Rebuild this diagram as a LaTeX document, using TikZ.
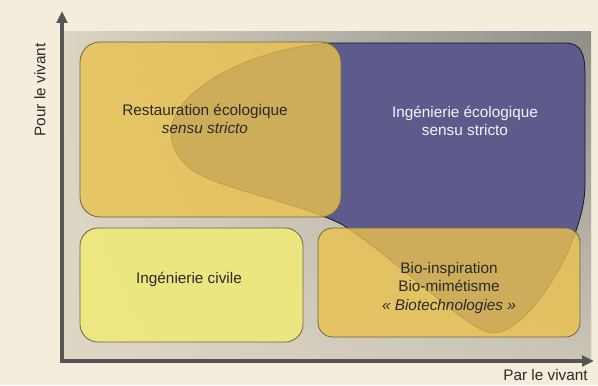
\documentclass[tikz,border=0pt]{standalone}
\usepackage{fontspec}
\setmainfont{Liberation Sans}
\usetikzlibrary{arrows.meta,fadings}
\definecolor{cream}{HTML}{F4EDDB}
\definecolor{panelL}{HTML}{DCD5C4}
\definecolor{panelR}{HTML}{8F8E88}
\definecolor{purp}{HTML}{5D5B8C}
\definecolor{gold}{HTML}{E9C24E}
\definecolor{lyel}{HTML}{EEE87E}
\definecolor{edgec}{HTML}{6E6440}
\definecolor{axisc}{HTML}{555555}
\definecolor{txt}{HTML}{2B2B2B}
\begin{document}
\begin{tikzpicture}[x=0.75pt,y=-0.75pt,
  lbl/.style={font=\fontsize{11.5}{14}\selectfont, text=txt, align=center, inner sep=0pt},
  gbox/.style={fill=gold, fill opacity=0.8, draw=edgec, line width=0.6pt},
  ybox/.style={fill=lyel, fill opacity=0.95, draw=edgec, line width=0.6pt},
  axisline/.style={draw=axisc, line width=2.4pt, line join=miter, {Triangle[width=8pt,length=9pt]}-{Triangle[width=8pt,length=9pt]}}]
\fill[cream] (0,0) rectangle (598,385);
\useasboundingbox (0,0) rectangle (598,385);
% panel
\shade[left color=panelL, right color=panelR] (64,32) rectangle (591,361);
\fill[panelL!85!cream, path fading=north, opacity=0.75] (64,32) rectangle (591,361);
% blob
\draw[fill=purp, draw=black!75!purp, line width=0.6pt]
  (171,132) .. controls (171,95) and (240,50) .. (330,43)
  -- (565,43) .. controls (582,43) and (585,55) .. (585,75)
  -- (585,185) .. controls (585,240) and (530,333) .. (493,333)
  .. controls (470,333) and (400,262) .. (343,225)
  .. controls (300,203) and (225,190) .. (195,172)
  .. controls (178,160) and (171,148) .. (171,132) -- cycle;
% boxes
\draw[gbox, rounded corners=15pt] (80,42) rectangle (341,217);
\draw[ybox, rounded corners=13.5pt] (80,228) rectangle (303,342);
\draw[gbox, rounded corners=11pt] (318,228) rectangle (580,337);
% texts
\node[lbl] (rest) at (205,119) {Restauration écologique\\\textit{sensu stricto}};
\node[lbl, text=white!93!purp] (inge) at (465,121) {Ingénierie écologique\\sensu stricto};
\node[lbl] (civ) at (189,279) {Ingénierie civile};
\node[lbl] (bio) at (449,288) {Bio-inspiration\\Bio-mimétisme\\\textit{« Biotechnologies »}};
% axes
\coordinate (O) at (62,361);
\coordinate (ytip) at (62,11);
\coordinate (xtip) at (594,361);
\draw[axisline] (ytip) -- (O) -- (xtip);
\node[lbl, rotate=90] (ylab) at (40,90) {Pour le vivant};
\node[lbl, anchor=east] (xlab) at (588,375) {Par le vivant};
\end{tikzpicture}
\end{document}
